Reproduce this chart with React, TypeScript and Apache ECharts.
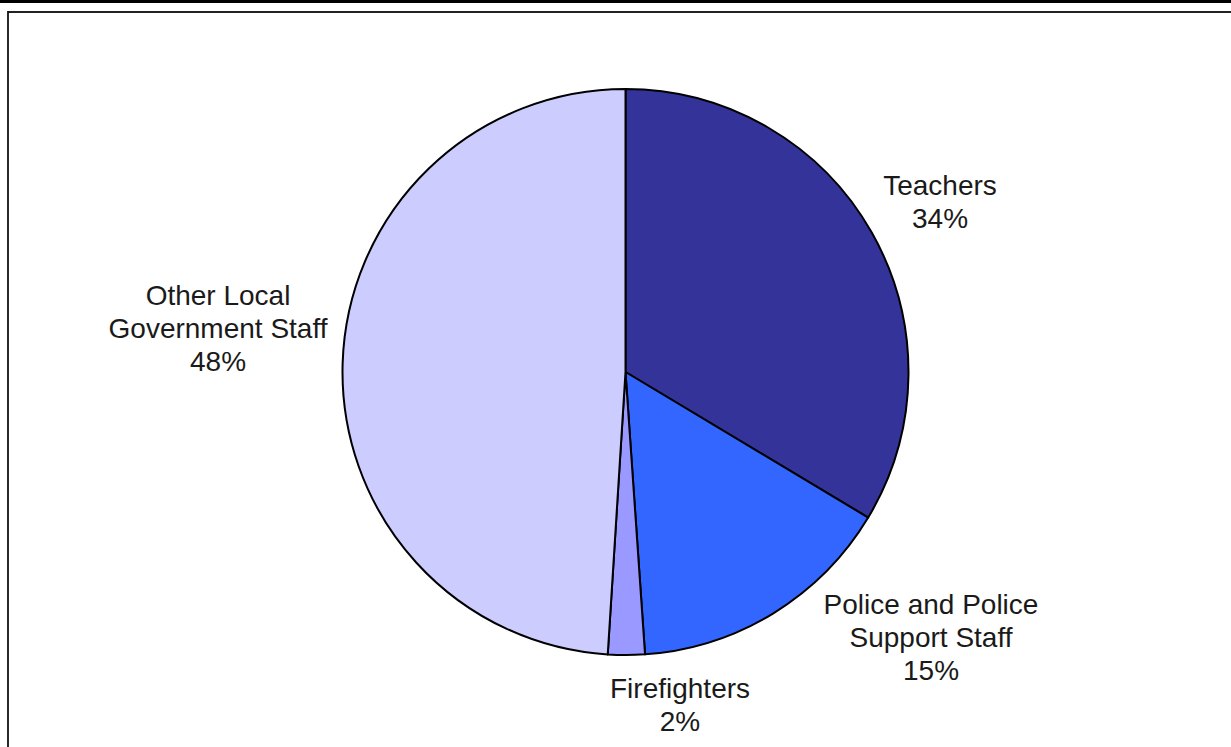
import React, { useEffect, useRef } from "react";
import * as echarts from "echarts";

const categories = ["Teachers", "Police and Police\nSupport Staff", "Firefighters", "Other Local\nGovernment Staff"];
const values = [33.6, 15.3, 2.1, 49.0];
const percentLabels = ["34%", "15%", "2%", "48%"];
const colors = ["#333399", "#3366FF", "#9999FF", "#CCCCFF"];

// label anchor points (label block centres) as placed in the reference
const labelAnchors: [number, number][] = [
  [940, 202],
  [931, 637],
  [680, 705],
  [218, 328],
];

export default function App() {
  const ref = useRef<HTMLDivElement>(null);
  useEffect(() => {
    if (!ref.current) return;
    const chart = echarts.init(ref.current, null, { renderer: "svg" });
    chart.setOption({
      animation: false,
      backgroundColor: "#ffffff",
      graphic: [
        { type: "rect", shape: { x: 0, y: 0, width: 1231, height: 3 }, style: { fill: "#000" }, silent: true },
        { type: "line", shape: { x1: 8, y1: 12, x2: 1231, y2: 12 }, style: { stroke: "#222", lineWidth: 2 }, silent: true },
        { type: "line", shape: { x1: 8, y1: 11, x2: 8, y2: 747 }, style: { stroke: "#111", lineWidth: 1.8 }, silent: true },
      ],
      series: [
        {
          type: "pie",
          center: [625.5, 372],
          radius: 283,
          startAngle: 90,
          clockwise: true,
          avoidLabelOverlap: false,
          itemStyle: { borderColor: "#000", borderWidth: 2 },
          label: {
            show: true,
            position: "outside",
            fontFamily: "Liberation Sans, Arial, sans-serif",
            fontSize: 28,
            lineHeight: 33,
            color: "#1a1a1a",
            align: "center",
            formatter: (p: any) => `${categories[p.dataIndex]}\n${percentLabels[p.dataIndex]}`,
          },
          labelLine: { show: false },
          labelLayout: (p: any) => {
            const a = labelAnchors[p.dataIndex];
            return { x: a[0], y: a[1], align: "center", verticalAlign: "middle" };
          },
          emphasis: { disabled: true },
          data: categories.map((c, i) => ({ name: c, value: values[i], itemStyle: { color: colors[i] } })),
        },
      ],
    });
    return () => chart.dispose();
  }, []);
  return <div ref={ref} style={{ position: "absolute", left: 0, top: 0, width: 1231, height: 747 }} />;
}
